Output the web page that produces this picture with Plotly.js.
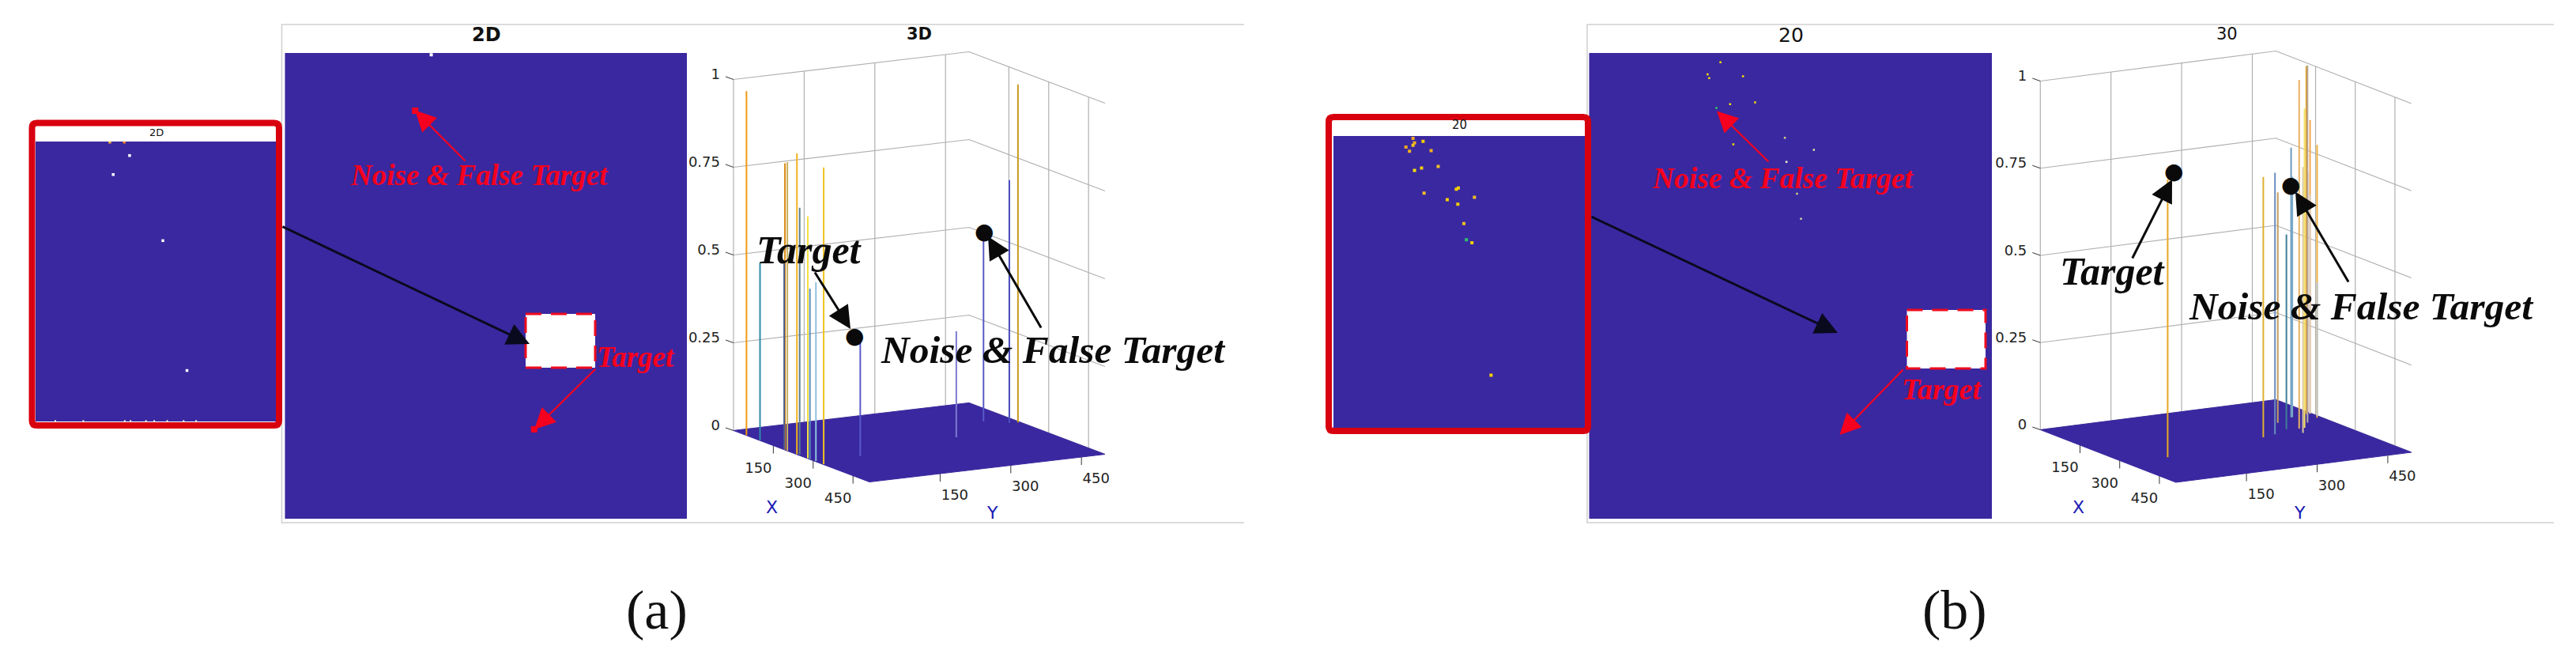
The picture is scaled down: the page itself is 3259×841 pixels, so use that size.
<!DOCTYPE html>
<html>
<head>
<meta charset="utf-8">
<script src="https://cdn.plot.ly/plotly-3.0.1.min.js"></script>
<style>
  html, body { margin: 0; padding: 0; background: #ffffff; }
</style>
</head>
<body>
<div id="chart" style="width:3259px;height:841px"></div>
<script>
// stems of the 3D view, panel (a)
const stemAX = [47, 98, 192, 191, 201, 237, 242, 278, 286, 305, 336, 307, 250, 152, 189, 193];
const stemAY = [1, 1, 1, 0, 1, 1, 4, 1, 1, 3, 2, 96, 332, 445, 479, 495];
const stemAZ = [0.98, 0.505, 0.816, 0.53, 0.822, 0.857, 0.703, 0.689, 0.486, 0.509, 0.845, 0.326, 0.302, 0.52, 0.692, 0.963];
const stemAColor = ["#f09a10", "#2f8aa8", "#d98a10", "#4a5a90", "#c9b060", "#f2b41e", "#5f7f90", "#f5e040", "#5a8fc0", "#8fc0e0", "#f2c020", "#5a5ac8", "#7a7ad0", "#5a5ac8", "#4a50c0", "#c89a20"];

// stems of the 3D view, panel (b)
const stemBX = [321, 264, 253, 171, 225, 143, 144, 234, 268, 133, 233, 198, 131, 123, 170, 134, 158];
const stemBY = [90, 325, 356, 408, 396, 452, 454, 418, 407, 490, 430, 456, 499, 498, 492, 497, 499];
const stemBZ = [0.796, 0.747, 0.75, 0.661, 0.558, 0.773, 0.69, 1.0, 0.762, 0.998, 0.916, 0.718, 0.841, 0.995, 0.782, 0.628, 0.383];
const stemBColor = ["#e8a820", "#e0b030", "#6a8cc0", "#c0a060", "#3f7f98", "#6a9cc0", "#7aa8c8", "#e8b060", "#d8c8a0", "#e0a020", "#f5dc60", "#b8b0a8", "#f0a850", "#b8a090", "#f0b040", "#d8d0c8", "#b8c8d0"];

// image points, zoomed inset of panel (a)
const insetAX = [154, 184, 195, 161, 264, 314];
const insetAY = [499, 499, 475, 441, 323, 91];
const insetAColor = ["#f0b040", "#f28020", "#ffffff", "#ffffff", "#ffffff", "#ffffff"];
const insetAEdgeX = [41, 99, 185, 197, 229, 246, 273, 307, 333];
const insetAEdgeY = [1, 1, 1, 1, 1, 1, 1, 1, 1];

// image points, zoomed inset of panel (b)
const insetBX = [158, 161, 158, 178, 144, 151, 194, 161, 175, 208, 248, 244, 180, 226, 280, 247, 259, 264, 275, 313];
const insetBY = [496, 488, 484, 491, 481, 474, 475, 441, 445, 448, 411, 409, 402, 391, 395, 383, 350, 322, 317, 90];
const insetBColor = ["#f0a820", "#f0b020", "#f0c020", "#f5d000", "#f0a820", "#f0b020", "#f0b020", "#f5e000", "#f5d000", "#f0c020", "#f5d000", "#f5d000", "#f0c020", "#f5d000", "#f0c020", "#f5d000", "#f0c020", "#30c070", "#f5d000", "#f5d000"];

// image points, full 2D panels
const panelAX = [182];
const panelAY = [498];
const panelATipX = [162, 310];
const panelATipY = [438, 96];
const panelBX = [163, 147, 149, 191, 175, 206, 158, 243, 179, 279, 245, 258, 263];
const panelBY = [490, 477, 473, 475, 445, 447, 441, 409, 402, 396, 383, 349, 322];
const panelBColor = ["#f5e000", "#f5e000", "#f5e000", "#f5e000", "#f5e000", "#f5e000", "#30d060", "#d0d080", "#f5e000", "#e0e0a0", "#f0f0d0", "#d0d080", "#d0d0a0"];

const axisTicks = [150, 300, 450];
const axisTickText = ["150", "300", "450"];
const zTicks = [0, 0.25, 0.5, 0.75, 1];
const zTickText = ["0", "0.25", "0.5", "0.75", "1"];

const WIDTH = 3259;
const HEIGHT = 841;
const BLUE = "#3a28a0";
const RED = "#f5001e";
const FRAME_RED = "#d8000f";
const SERIF = "Liberation Serif";
const XMAX = 512;
const YMAX = 500;

const fx = (px) => px / WIDTH;
const fy = (py) => 1 - py / HEIGHT;
const domainX = (a, b) => [fx(a), fx(b)];
const domainY = (top, bottom) => [fy(bottom), fy(top)];

// oblique views of the cube, in screen pixels from the far left floor corner
const viewA = { xVec: [172, -65], yVec: [298, 35], zLen: 444 };
const viewB = { xVec: [171.4, -66.5], yVec: [298, 38], zLen: 441 };

function project(view, x, y, z) {
  return [
    (view.xVec[0] * x) / XMAX + (view.yVec[0] * y) / YMAX,
    (view.xVec[1] * x) / XMAX + (view.yVec[1] * y) / YMAX + view.zLen * z,
  ];
}

function polyline(view, points, style, xaxis, yaxis, fill) {
  const xy = points.map((p) => (p ? project(view, p[0], p[1], p[2]) : [null, null]));
  return {
    type: "scatter",
    mode: "lines",
    x: xy.map((p) => p[0]),
    y: xy.map((p) => p[1]),
    xaxis: xaxis,
    yaxis: yaxis,
    line: style,
    fill: fill || "none",
    fillcolor: BLUE,
    showlegend: false,
    hoverinfo: "skip",
    cliponaxis: false,
  };
}

function cubeTraces(view, xaxis, yaxis) {
  const grid = [];
  zTicks.forEach((z) => {
    grid.push([0, 0, z], [0, YMAX, z], [XMAX, YMAX, z], null);
  });
  axisTicks.forEach((y) => grid.push([0, y, 0], [0, y, 1], null));
  axisTicks.forEach((x) => grid.push([x, YMAX, 0], [x, YMAX, 1], null));
  grid.push([0, 0, 0], [0, 0, 1], null);

  const floor = [[0, 0, 0], [0, YMAX, 0], [XMAX, YMAX, 0], [XMAX, 0, 0], [0, 0, 0]];
  return [
    polyline(view, grid, { color: "#b0b0b0", width: 1.2 }, xaxis, yaxis),
    polyline(view, floor, { color: BLUE, width: 1 }, xaxis, yaxis, "toself"),
  ];
}

function tickTraces(view, xaxis, yaxis) {
  const marks = { x: [], y: [] };
  const marker = (p, du, dv) => {
    marks.x.push(p[0], p[0] + du, null);
    marks.y.push(p[1], p[1] + dv, null);
  };
  const xEdge = axisTicks.map((v) => project(view, v, 0, 0));
  const yEdge = axisTicks.map((v) => project(view, XMAX, v, 0));
  const zEdge = zTicks.map((v) => project(view, 0, 0, v));
  xEdge.forEach((p) => marker(p, 0, -10));
  yEdge.forEach((p) => marker(p, 0, -10));
  zEdge.forEach((p) => marker(p, -10, 3.5));

  const font = { family: "DejaVu Sans", size: 18, color: "#222222" };
  const text = (xs, ys, labels, position) => ({
    type: "scatter",
    mode: "text",
    x: xs,
    y: ys,
    text: labels,
    textposition: position,
    textfont: font,
    xaxis: xaxis,
    yaxis: yaxis,
    showlegend: false,
    hoverinfo: "skip",
    cliponaxis: false,
  });
  return [
    {
      type: "scatter",
      mode: "lines",
      x: marks.x,
      y: marks.y,
      xaxis: xaxis,
      yaxis: yaxis,
      line: { color: "#333333", width: 1 },
      showlegend: false,
      hoverinfo: "skip",
      cliponaxis: false,
    },
    text(xEdge.map((p) => p[0] - 19), xEdge.map((p) => p[1] - 30), axisTickText, "middle center"),
    text(yEdge.map((p) => p[0] + 18.5), yEdge.map((p) => p[1] - 28), axisTickText, "middle center"),
    text(zEdge.map((p) => p[0] - 17), zEdge.map((p) => p[1] + 5), zTickText, "middle left"),
  ];
}

function stemTraces(view, xs, ys, zs, colors, xaxis, yaxis) {
  return xs.map((x, i) =>
    polyline(view, [[x, ys[i], 0], [x, ys[i], zs[i]]], { color: colors[i], width: 2 }, xaxis, yaxis)
  );
}

function imageTrace(xaxis, yaxis) {
  return {
    type: "heatmap",
    x: [0, 500],
    y: [0, 500],
    z: [[0, 0], [0, 0]],
    xaxis: xaxis,
    yaxis: yaxis,
    colorscale: [[0, BLUE], [1, BLUE]],
    showscale: false,
    hoverinfo: "skip",
  };
}

function pointTrace(xs, ys, colors, size, xaxis, yaxis) {
  return {
    type: "scatter",
    mode: "markers",
    x: xs,
    y: ys,
    xaxis: xaxis,
    yaxis: yaxis,
    marker: { color: colors, size: size, symbol: "square" },
    showlegend: false,
    hoverinfo: "skip",
  };
}

const data = [
  imageTrace("x", "y"),
  imageTrace("x2", "y2"),
  imageTrace("x3", "y3"),
  imageTrace("x4", "y4"),
  pointTrace(panelAX, panelAY, "#ffffff", 4, "x", "y"),
  pointTrace(panelATipX, panelATipY, RED, 8, "x", "y"),
  pointTrace(insetAX, insetAY, insetAColor, 3.5, "x2", "y2"),
  pointTrace(insetAEdgeX, insetAEdgeY, "#f0e8d8", 2, "x2", "y2"),
  pointTrace(panelBX, panelBY, panelBColor, 2.5, "x3", "y3"),
  pointTrace(insetBX, insetBY, insetBColor, 4, "x4", "y4"),
  ...cubeTraces(viewA, "x5", "y5"),
  ...stemTraces(viewA, stemAX, stemAY, stemAZ, stemAColor, "x5", "y5"),
  ...tickTraces(viewA, "x5", "y5"),
  ...cubeTraces(viewB, "x6", "y6"),
  ...stemTraces(viewB, stemBX, stemBY, stemBZ, stemBColor, "x6", "y6"),
  ...tickTraces(viewB, "x6", "y6"),
];

function hiddenAxis(domain, range) {
  return { domain: domain, range: range || [0, 500], visible: false, fixedrange: true };
}

function label(text, px, py, size, color, family) {
  return {
    text: text,
    xref: "paper",
    yref: "paper",
    x: fx(px),
    y: fy(py),
    xanchor: "center",
    yanchor: "middle",
    showarrow: false,
    font: { family: family || "DejaVu Sans", size: size, color: color || "#111111" },
  };
}

function arrow(x0, y0, x1, y1, color, width, size) {
  return {
    text: "",
    xref: "paper",
    yref: "paper",
    x: fx(x1),
    y: fy(y1),
    ax: x0 - x1,
    ay: y0 - y1,
    showarrow: true,
    arrowhead: 2,
    arrowsize: size,
    arrowwidth: width,
    arrowcolor: color,
  };
}

const blackArrow = (x0, y0, x1, y1) => arrow(x0, y0, x1, y1, "#0a0a0a", 3, 1.9);
const redArrow = (x0, y0, x1, y1) => arrow(x0, y0, x1, y1, RED, 2.2, 2.4);

function serifText(text, px, py, size, color) {
  return label("<b><i>" + text + "</i></b>", px, py, size, color, SERIF);
}

function dot(px, py) {
  return label("●", px, py, 28, "#0a0a0a");
}

function roundedFrame(x0, y0, x1, y1, r) {
  const p = (x, y) => fx(x) + " " + fy(y);
  const path = [
    "M " + p(x0 + r, y0),
    "L " + p(x1 - r, y0),
    "Q " + p(x1, y0) + " " + p(x1, y0 + r),
    "L " + p(x1, y1 - r),
    "Q " + p(x1, y1) + " " + p(x1 - r, y1),
    "L " + p(x0 + r, y1),
    "Q " + p(x0, y1) + " " + p(x0, y1 - r),
    "L " + p(x0, y0 + r),
    "Q " + p(x0, y0) + " " + p(x0 + r, y0),
    "Z",
  ].join(" ");
  return { type: "path", xref: "paper", yref: "paper", path: path, line: { color: FRAME_RED, width: 8 } };
}

function openBorder(x0, y0, x1, y1) {
  const p = (x, y) => fx(x) + " " + fy(y);
  return {
    type: "path",
    xref: "paper",
    yref: "paper",
    path: "M " + p(x1, y0) + " L " + p(x0, y0) + " L " + p(x0, y1) + " L " + p(x1, y1),
    line: { color: "#cfcfcf", width: 1.5 },
  };
}

function whiteBox(x0, y0, x1, y1) {
  return {
    type: "rect",
    xref: "paper",
    yref: "paper",
    x0: fx(x0),
    x1: fx(x1),
    y0: fy(y0),
    y1: fy(y1),
    fillcolor: "#ffffff",
    line: { color: "#ee0a1e", width: 3, dash: "20px,12px" },
  };
}

const layout = {
  width: WIDTH,
  height: HEIGHT,
  margin: { l: 0, r: 0, t: 0, b: 0 },
  paper_bgcolor: "#ffffff",
  plot_bgcolor: "rgba(0,0,0,0)",
  showlegend: false,
  // panel (a): full 2D view and zoomed inset
  xaxis: hiddenAxis(domainX(360.5, 869)),
  yaxis: hiddenAxis(domainY(67, 656)),
  xaxis2: hiddenAxis(domainX(45, 350)),
  yaxis2: hiddenAxis(domainY(179, 533)),
  // panel (b)
  xaxis3: hiddenAxis(domainX(2010.5, 2520)),
  yaxis3: hiddenAxis(domainY(67, 656)),
  xaxis4: hiddenAxis(domainX(1687, 2005.5)),
  yaxis4: hiddenAxis(domainY(172, 541)),
  // 3D views, axis units are screen pixels around the floor corner
  xaxis5: hiddenAxis(domainX(878, 1428), [-50, 500]),
  yaxis5: hiddenAxis(domainY(44.5, 644.5), [-100, 500]),
  xaxis6: hiddenAxis(domainX(2531.3, 3081.3), [-50, 500]),
  yaxis6: hiddenAxis(domainY(43.5, 643.5), [-100, 500]),
  shapes: [
    openBorder(356.5, 31, 1574, 661),
    openBorder(2008, 31, 3231, 661),
    whiteBox(665, 397, 753, 465),
    whiteBox(2412.5, 392, 2512, 466),
    roundedFrame(40.5, 155.5, 353, 538, 6),
    roundedFrame(1681, 148, 2009, 545, 6),
  ],
  annotations: [
    label("<b>2D</b>", 615, 44, 24),
    label("<b>3D</b>", 1163, 43, 21),
    label("2D", 198, 167, 13),
    label("20", 2265.5, 44, 25),
    label("30", 2817, 43, 21),
    label("20", 1846.5, 158, 15),
    label("(a)", 831, 771, 70, "#111111", SERIF),
    label("(b)", 2473, 771, 70, "#111111", SERIF),
    label("X", 976, 641.5, 22, "#1a1ab4"),
    label("Y", 1255, 648, 22, "#1a1ab4"),
    label("X", 2629.5, 641.5, 22, "#1a1ab4"),
    label("Y", 2909.5, 648, 22, "#1a1ab4"),

    arrow(356, 286, 670, 435, "#0a0a1e", 3, 1.9),
    redArrow(590, 205, 525, 139.5),
    redArrow(755, 465, 676, 543),
    serifText("Noise &amp; False Target", 606, 222, 37, RED),
    serifText("Target", 804, 451, 37, RED),

    blackArrow(1030, 343, 1076, 416),
    blackArrow(1318, 416, 1250, 299),
    dot(1080.5, 425),
    dot(1244.5, 292),
    serifText("Target", 1023.5, 316, 50, "#0a0a0a"),
    serifText("Noise &amp; False Target", 1332, 442.5, 49.5, "#0a0a0a"),

    arrow(2012, 273.5, 2325, 421, "#0a0a1e", 3, 1.9),
    redArrow(2239, 206, 2172, 140.5),
    redArrow(2409, 466, 2327.5, 550),
    serifText("Noise &amp; False Target", 2255, 225, 37.5, RED),
    serifText("Target", 2456, 492, 38, RED),

    blackArrow(2697, 328, 2748, 227),
    blackArrow(2972, 358, 2904, 242.5),
    dot(2750, 216),
    dot(2898, 234),
    serifText("Target", 2673, 343, 50, "#0a0a0a"),
    serifText("Noise &amp; False Target", 2987, 387, 49.5, "#0a0a0a"),
  ],
};

Plotly.newPlot("chart", data, layout, { displayModeBar: false, staticPlot: true });
</script>
</body>
</html>
